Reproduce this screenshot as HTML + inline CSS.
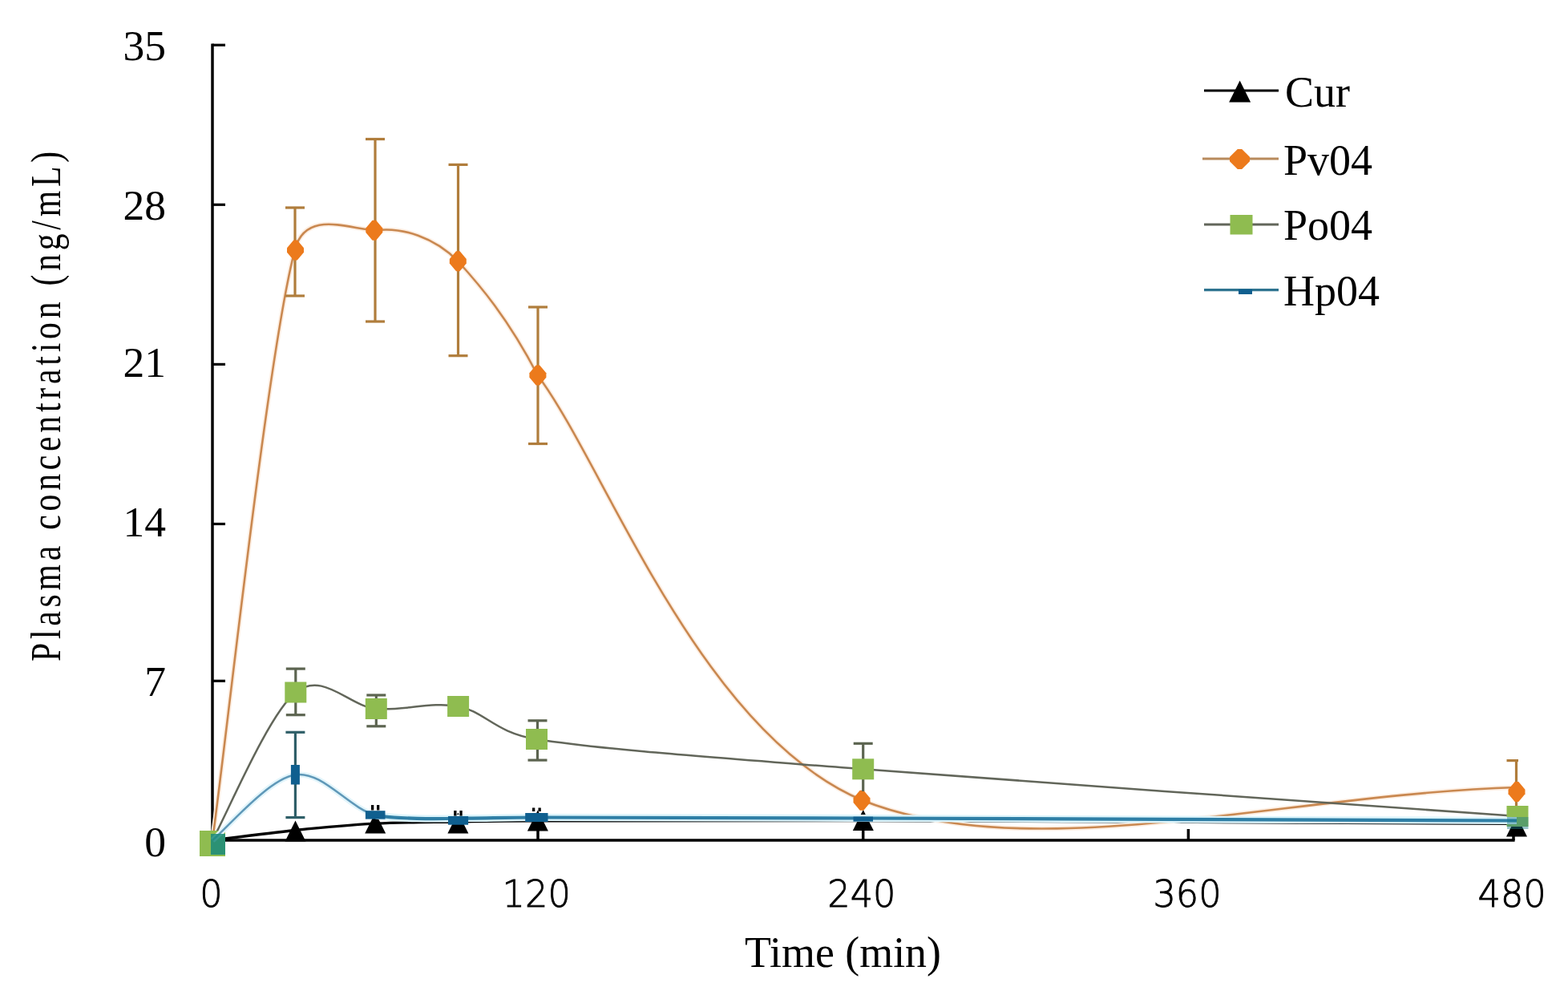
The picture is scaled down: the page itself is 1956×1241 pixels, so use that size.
<!DOCTYPE html>
<html><head><meta charset="utf-8"><title>Plasma concentration chart</title>
<style>html,body{margin:0;padding:0;background:#fff;width:1956px;height:1241px;overflow:hidden}svg{display:block}</style>
</head><body>
<svg width="1956" height="1241" viewBox="0 0 1956 1241"><g stroke="#000" stroke-width="3.5" fill="none">
<line x1="265" y1="54.5" x2="265" y2="1049.5"/>
<line x1="263.3" y1="1048" x2="1889.6" y2="1048"/>
<line x1="265" y1="56.2" x2="281" y2="56.2" stroke-width="3.2"/>
<line x1="265" y1="255.3" x2="281" y2="255.3" stroke-width="3.2"/>
<line x1="265" y1="454.4" x2="281" y2="454.4" stroke-width="3.2"/>
<line x1="265" y1="653.5" x2="281" y2="653.5" stroke-width="3.2"/>
<line x1="265" y1="849.3" x2="281" y2="849.3" stroke-width="3.2"/>
<line x1="671.0" y1="1034" x2="671.0" y2="1048"/>
<line x1="1076.7" y1="1034" x2="1076.7" y2="1048"/>
<line x1="1482.4" y1="1034" x2="1482.4" y2="1048"/>
<line x1="1888.0" y1="1034" x2="1888.0" y2="1048"/>
</g>
<g font-family="Liberation Serif, serif" font-size="52.0" fill="#000" stroke="#000" stroke-width="0.00" text-anchor="end">
<text transform="translate(207.0,75.4) scale(1.030,1)">35</text>
<text transform="translate(207.0,274.4) scale(1.030,1)">28</text>
<text transform="translate(207.0,469.9) scale(1.030,1)">21</text>
<text transform="translate(207.0,669.3) scale(1.030,1)">14</text>
<text transform="translate(207.0,868.3) scale(1.030,1)">7</text>
<text transform="translate(207.0,1067.7) scale(1.030,1)">0</text>
</g>
<g font-family="DejaVu Sans, sans-serif" font-weight="200" font-size="47.0" fill="#000" stroke="#000" stroke-width="0.90" text-anchor="middle">
<text transform="translate(263.4,1131.0) scale(0.950,1)">0</text>
<text transform="translate(669.2,1131.0) scale(0.950,1)">120</text>
<text transform="translate(1074.9,1131.0) scale(0.950,1)">240</text>
<text transform="translate(1481.0,1131.0) scale(0.950,1)">360</text>
<text transform="translate(1886.1,1131.0) scale(0.950,1)">480</text>
</g>
<text x="929" y="1206" font-family="Liberation Serif, serif" font-size="54" textLength="245" lengthAdjust="spacingAndGlyphs">Time (min)</text>
<text transform="translate(75,825) rotate(-90) scale(0.800,1)" x="0" y="0" font-family="Liberation Serif, serif" font-size="52" textLength="795.0" lengthAdjust="spacing">Plasma concentration (ng/mL)</text>
<defs><clipPath id="pc"><rect x="200" y="40" width="1694" height="1100"/></clipPath></defs>
<g clip-path="url(#pc)"><path d="M265.0,1048.0 C282.2,1045.9 334.6,1039.0 368.5,1035.5 C402.4,1032.0 434.4,1029.0 468.2,1027.2 C502.0,1025.5 537.6,1025.6 571.4,1025.0 C605.2,1024.4 621.1,1023.9 670.9,1023.8 C755.1,1023.6 873.9,1023.0 1076.8,1023.6 C1280.3,1024.2 1756.1,1026.7 1892.0,1027.3" stroke="#000000" stroke-width="3.3" fill="none" stroke-linejoin="round"/></g>
<polygon points="368.5,1023.5 381.5,1049.5 355.5,1049.5" fill="#000"/>
<polygon points="468.2,1013.5 481.2,1039.5 455.2,1039.5" fill="#000"/>
<polygon points="571.4,1013.5 584.4,1039.5 558.4,1039.5" fill="#000"/>
<polygon points="670.9,1010.5 683.9,1036.5 657.9,1036.5" fill="#000"/>
<polygon points="1076.8,1009.9 1089.8,1035.9 1063.8,1035.9" fill="#000"/>
<polygon points="1892.0,1017.5 1905.0,1043.5 1879.0,1043.5" fill="#000"/>
<g clip-path="url(#pc)"><path d="M265.0,1048.0 C282.2,925.2 334.2,437.8 368.0,311.0 C381.2,261.6 433.6,285.0 467.5,287.5 C501.5,282.5 542.7,296.4 571.5,326.0 C598.1,355.4 632.7,395.0 671.0,468.5 C755.0,580.5 872.0,912.4 1075.5,998.0 C1286.4,1082.6 1601.6,990.8 1892.0,982.0" stroke="#fdeee2" stroke-width="6.0" fill="none" stroke-linejoin="round"/><path d="M265.0,1048.0 C282.2,925.2 334.2,437.8 368.0,311.0 C381.2,261.6 433.6,285.0 467.5,287.5 C501.5,282.5 542.7,296.4 571.5,326.0 C598.1,355.4 632.7,395.0 671.0,468.5 C755.0,580.5 872.0,912.4 1075.5,998.0 C1286.4,1082.6 1601.6,990.8 1892.0,982.0" stroke="#c98850" stroke-width="2.6" fill="none" stroke-linejoin="round"/><g stroke="#b07d3c" stroke-width="3.2"><line x1="368.0" y1="259.0" x2="368.0" y2="369.0"/><line x1="356.0" y1="259.0" x2="380.0" y2="259.0"/><line x1="356.0" y1="369.0" x2="380.0" y2="369.0"/></g><g stroke="#b07d3c" stroke-width="3.2"><line x1="468.0" y1="173.5" x2="468.0" y2="401.0"/><line x1="456.0" y1="173.5" x2="480.0" y2="173.5"/><line x1="456.0" y1="401.0" x2="480.0" y2="401.0"/></g><g stroke="#b07d3c" stroke-width="3.2"><line x1="571.5" y1="205.4" x2="571.5" y2="443.7"/><line x1="559.5" y1="205.4" x2="583.5" y2="205.4"/><line x1="559.5" y1="443.7" x2="583.5" y2="443.7"/></g><g stroke="#b07d3c" stroke-width="3.2"><line x1="671.0" y1="383.0" x2="671.0" y2="553.5"/><line x1="659.0" y1="383.0" x2="683.0" y2="383.0"/><line x1="659.0" y1="553.5" x2="683.0" y2="553.5"/></g><g stroke="#b07d3c" stroke-width="3.2"><line x1="1891.5" y1="948.6" x2="1891.5" y2="1006.0"/><line x1="1879.5" y1="948.6" x2="1903.5" y2="948.6"/></g></g>
<polygon points="366.2,299.5 370.8,299.5 379.0,309.2 379.0,314.8 370.8,324.5 366.2,324.5 358.0,314.8 358.0,309.2" fill="#ec7a1c"/>
<polygon points="464.5,274.8 469.1,274.8 477.3,284.6 477.3,290.1 469.1,299.8 464.5,299.8 456.3,290.1 456.3,284.6" fill="#ec7a1c"/>
<polygon points="569.0,313.2 573.6,313.2 581.8,322.9 581.8,328.4 573.6,338.2 569.0,338.2 560.8,328.4 560.8,322.9" fill="#ec7a1c"/>
<polygon points="668.6,455.5 673.2,455.5 681.4,465.2 681.4,470.8 673.2,480.5 668.6,480.5 660.4,470.8 660.4,465.2" fill="#ec7a1c"/>
<polygon points="1072.7,985.8 1077.3,985.8 1085.5,995.5 1085.5,1001.0 1077.3,1010.8 1072.7,1010.8 1064.5,1001.0 1064.5,995.5" fill="#ec7a1c"/>
<polygon points="1889.7,975.0 1894.3,975.0 1902.5,984.8 1902.5,990.2 1894.3,1000.0 1889.7,1000.0 1881.5,990.2 1881.5,984.8" fill="#ec7a1c"/>
<g clip-path="url(#pc)"><path d="M265.0,1048.0 C282.3,1017.2 334.8,890.8 368.8,863.5 C402.9,836.2 435.5,881.1 469.3,884.0 C503.1,886.9 538.2,874.7 571.6,881.0 C605.0,887.3 617.1,913.9 669.5,922.0 C753.7,935.0 872.9,943.3 1076.7,959.3 C1280.6,975.3 1757.0,1008.2 1893.0,1018.0" stroke="#62665a" stroke-width="2.5" fill="none" stroke-linejoin="round"/><g stroke="#5c6450" stroke-width="3.2"><line x1="368.8" y1="834.1" x2="368.8" y2="891.7"/><line x1="356.8" y1="834.1" x2="380.8" y2="834.1"/><line x1="356.8" y1="891.7" x2="380.8" y2="891.7"/></g><g stroke="#5c6450" stroke-width="3.2"><line x1="469.3" y1="867.0" x2="469.3" y2="905.8"/><line x1="457.3" y1="867.0" x2="481.3" y2="867.0"/><line x1="457.3" y1="905.8" x2="481.3" y2="905.8"/></g><g stroke="#5c6450" stroke-width="3.2"><line x1="670.5" y1="898.8" x2="670.5" y2="948.1"/><line x1="658.5" y1="898.8" x2="682.5" y2="898.8"/><line x1="658.5" y1="948.1" x2="682.5" y2="948.1"/></g><g stroke="#5c6450" stroke-width="3.2"><line x1="1076.7" y1="927.3" x2="1076.7" y2="987.0"/><line x1="1064.7" y1="927.3" x2="1088.7" y2="927.3"/></g></g>
<rect x="249" y="1036" width="32" height="32" fill="#8fbc50"/>
<rect x="355.3" y="850.5" width="27.0" height="26.0" fill="#8fbc50"/>
<rect x="455.8" y="871.0" width="27.0" height="26.0" fill="#8fbc50"/>
<rect x="558.1" y="868.0" width="27.0" height="26.0" fill="#8fbc50"/>
<rect x="656.0" y="909.0" width="27.0" height="26.0" fill="#8fbc50"/>
<rect x="1063.2" y="946.3" width="27.0" height="26.0" fill="#8fbc50"/>
<rect x="1879.5" y="1005.0" width="27.0" height="26.0" fill="#8fbc50"/>
<g clip-path="url(#pc)"><path d="M265.0,1048.0 C282.2,1034.4 334.4,971.5 368.4,966.3 C402.4,961.1 435.1,1008.0 469.0,1017.0" stroke="#e2f5fb" stroke-width="7.0" fill="none" stroke-linejoin="round"/><path d="M265.0,1048.0 C282.2,1034.4 334.4,971.5 368.4,966.3 C402.4,961.1 435.1,1008.0 469.0,1017.0" stroke="#5f98b8" stroke-width="2.5" fill="none" stroke-linejoin="round"/><path d="M469.0,1017.0 C495.0,1021.5 545.0,1021.5 571.6,1020.5 C605.2,1020.9 621.0,1019.5 670.5,1019.5 C754.6,1019.5 873.3,1019.8 1076.0,1020.5 C1279.6,1021.2 1756.0,1023.0 1892.0,1023.5" stroke="#dcf4fb" stroke-width="9.0" fill="none" stroke-linejoin="round"/><path d="M469.0,1017.0 C495.0,1021.5 545.0,1021.5 571.6,1020.5 C605.2,1020.9 621.0,1019.5 670.5,1019.5 C754.6,1019.5 873.3,1019.8 1076.0,1020.5 C1279.6,1021.2 1756.0,1023.0 1892.0,1023.5" stroke="#2f7fa6" stroke-width="4.2" fill="none" stroke-linejoin="round"/><g stroke="#2f5f68" stroke-width="3.2"><line x1="368.4" y1="913.3" x2="368.4" y2="1019.6"/><line x1="356.4" y1="913.3" x2="380.4" y2="913.3"/><line x1="356.4" y1="1019.6" x2="380.4" y2="1019.6"/></g></g>
<rect x="263" y="1040" width="18" height="26" fill="#1a8a7a" opacity="0.85"/>
<rect x="362.9" y="954.0" width="11.0" height="24.5" fill="#0f5f8f"/>
<rect x="1880" y="1019" width="26.5" height="15" fill="#1a7a8a" opacity="0.45"/>
<rect x="455.9" y="1011.2" width="24.6" height="10.4" fill="#0f5f8f"/>
<rect x="559.0" y="1018.0" width="25.1" height="10.7" fill="#0f5f8f"/>
<rect x="655.2" y="1014.0" width="28.3" height="11.0" fill="#0f5f8f"/>
<rect x="1064.5" y="1018.6" width="24.5" height="6.0" fill="#0f5f8f"/>
<rect x="463.0" y="1004.0" width="3.3" height="6.5" fill="#000"/>
<rect x="470.0" y="1004.0" width="3.3" height="6.5" fill="#000"/>
<rect x="566.2" y="1011.0" width="3.3" height="6.6" fill="#000"/>
<rect x="573.4" y="1011.0" width="3.3" height="6.6" fill="#000"/>
<rect x="664.0" y="1007.5" width="3.3" height="4.5" fill="#000"/>
<rect x="671.5" y="1007.5" width="3.3" height="4.5" fill="#000"/>
<g stroke-width="3.2">
<line x1="1502" y1="113" x2="1595" y2="113" stroke="#000"/>
<line x1="1500" y1="198" x2="1595" y2="198" stroke="#b88a5c"/>
<line x1="1502" y1="280" x2="1595" y2="280" stroke="#62665a"/>
<line x1="1502" y1="361.6" x2="1595" y2="361.6" stroke="#2f7490"/>
</g>
<polygon points="1546.6,100.5 1560.1,127.5 1533.1,127.5" fill="#000"/>
<polygon points="1543.8,186.0 1549.2,186.0 1559.0,195.8 1559.0,201.2 1549.2,211.0 1543.8,211.0 1534.0,201.2 1534.0,195.8" fill="#ec7a1c"/>
<rect x="1534.5" y="268" width="28" height="24.5" fill="#8fbc50"/>
<rect x="1545" y="361" width="17" height="6" fill="#0f5f8f"/>
<g font-family="Liberation Serif, serif" font-size="54" fill="#000">
<text x="1603" y="132.5">Cur</text>
<text x="1601" y="217.6">Pv04</text>
<text x="1601" y="299.2">Po04</text>
<text x="1601" y="380.9">Hp04</text>
</g></svg>
</body></html>
